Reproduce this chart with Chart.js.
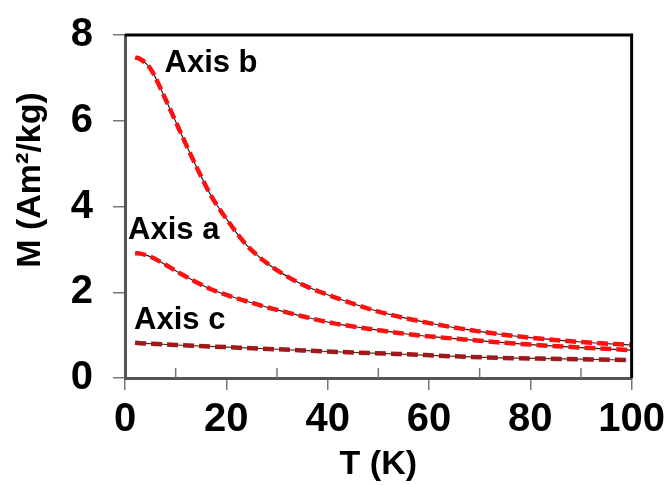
<!DOCTYPE html>
<html>
<head>
<meta charset="utf-8">
<script src="https://cdn.jsdelivr.net/npm/chart.js@4.4.1/dist/chart.umd.min.js"></script>
<style>
  html, body { margin: 0; padding: 0; background: #fff; }
</style>
</head>
<body>
<canvas id="magChart" width="671" height="485"></canvas>
<script>
// temperatures (K) shared by axis a and axis b
const temps = [2, 3, 5, 8, 10, 14, 17, 21, 24, 28, 31, 35, 41, 48, 54, 61, 67, 74, 80, 90, 100];
const axisB = [7.48, 7.44, 7.22, 6.5, 5.98, 4.95, 4.25, 3.55, 3.1, 2.68, 2.44, 2.18, 1.9, 1.62, 1.43, 1.26, 1.14, 1.02, 0.94, 0.84, 0.77];
const axisA = [2.91, 2.9, 2.83, 2.64, 2.5, 2.24, 2.07, 1.9, 1.79, 1.65, 1.56, 1.44, 1.28, 1.15, 1.05, 0.96, 0.9, 0.83, 0.78, 0.71, 0.65];
// axis c measured on its own grid
const tempsC = [2, 5, 10, 20, 30, 44, 54, 64, 74, 84, 99];
const axisC = [0.82, 0.8, 0.77, 0.72, 0.67, 0.6, 0.56, 0.51, 0.47, 0.45, 0.42];

const xTicks = [0, 20, 40, 60, 80, 100];
const xMinorTicks = [10, 30, 50, 70, 90];
const yTicks = [0, 2, 4, 6, 8];

// curve labels: text, T, M
const labelText = ['Axis b', 'Axis a', 'Axis c'];
const labelT = [7.8, 0.6, 1.8];
const labelM = [7.34, 3.45, 1.34];

const yTitle = 'M (Am²/kg)';

const toPoints = (xs, ys) => xs.map((x, i) => ({ x: x, y: ys[i] }));

function curve(xs, ys, color, dashed) {
    return {
        data: toPoints(xs, ys),
        showLine: true,
        borderColor: color,
        borderWidth: dashed ? 4.5 : 1.2,
        borderDash: dashed ? [11, 5] : [],
        pointRadius: 0,
        cubicInterpolationMode: 'monotone',
        fill: false
    };
}

const extras = {
    id: 'extras',
    afterDraw(chart) {
        const ctx = chart.ctx;
        const area = chart.chartArea;
        const x = chart.scales.x, y = chart.scales.y;
        ctx.save();
        // minor ticks pointing into the plot
        ctx.strokeStyle = '#777';
        ctx.lineWidth = 1.5;
        xMinorTicks.forEach(v => {
            const px = x.getPixelForValue(v);
            ctx.beginPath();
            ctx.moveTo(px, area.bottom);
            ctx.lineTo(px, area.bottom - 10);
            ctx.stroke();
        });
        // top and right frame
        ctx.strokeStyle = '#000';
        ctx.lineWidth = 3;
        ctx.beginPath();
        ctx.moveTo(area.left, area.top);
        ctx.lineTo(area.right, area.top);
        ctx.lineTo(area.right, area.bottom);
        ctx.stroke();
        // curve labels
        ctx.fillStyle = '#000';
        ctx.font = 'bold 31px "Liberation Sans", Arial, sans-serif';
        ctx.textBaseline = 'middle';
        ctx.textAlign = 'left';
        labelText.forEach((t, i) => {
            ctx.fillText(t, x.getPixelForValue(labelT[i]), y.getPixelForValue(labelM[i]));
        });
        // y title, sits a bit above the middle of the axis
        ctx.font = 'bold 34px "Liberation Sans", Arial, sans-serif';
        ctx.textAlign = 'center';
        ctx.translate(31, 180);
        ctx.rotate(-Math.PI / 2);
        ctx.fillText(yTitle, 0, 0);
        ctx.restore();
    }
};

const font = { family: '"Liberation Sans", Arial, sans-serif', weight: 'bold' };

new Chart(document.getElementById('magChart'), {
    type: 'scatter',
    data: {
        datasets: [
            curve(temps, axisB, '#ff1010', true),
            curve(temps, axisB, '#222', false),
            curve(temps, axisA, '#ff1010', true),
            curve(temps, axisA, '#222', false),
            curve(tempsC, axisC, '#a01818', true),
            curve(tempsC, axisC, '#333', false)
        ]
    },
    options: {
        responsive: false,
        animation: false,
        layout: { padding: { top: 35, right: 37, left: 0, bottom: 0 } },
        plugins: { legend: { display: false }, tooltip: { enabled: false } },
        scales: {
            x: {
                type: 'linear',
                min: 0, max: 100,
                afterBuildTicks: s => { s.ticks = xTicks.map(v => ({ value: v })); },
                afterFit: s => { s.height = 107; },
                ticks: { color: '#000', padding: 6, maxRotation: 0, font: { ...font, size: 40 } },
                grid: { drawOnChartArea: false, drawTicks: true, tickLength: 12, color: '#777', lineWidth: 1.5 },
                border: { color: '#555', width: 3 },
                title: { display: true, text: 'T (K)', color: '#000', padding: { top: -8, bottom: 0 }, font: { ...font, size: 34 } }
            },
            y: {
                min: 0, max: 8,
                afterBuildTicks: s => { s.ticks = yTicks.map(v => ({ value: v })); },
                afterFit: s => { s.width = 125; s.paddingTop = 0; s.paddingBottom = 0; },
                ticks: { color: '#000', padding: 20, font: { ...font, size: 40, lineHeight: 0.8 } },
                grid: { drawOnChartArea: false, drawTicks: true, tickLength: 12, color: '#777', lineWidth: 1.5 },
                border: { color: '#555', width: 3 },
                title: { display: false }
            }
        }
    },
    plugins: [extras]
});
</script>
</body>
</html>
